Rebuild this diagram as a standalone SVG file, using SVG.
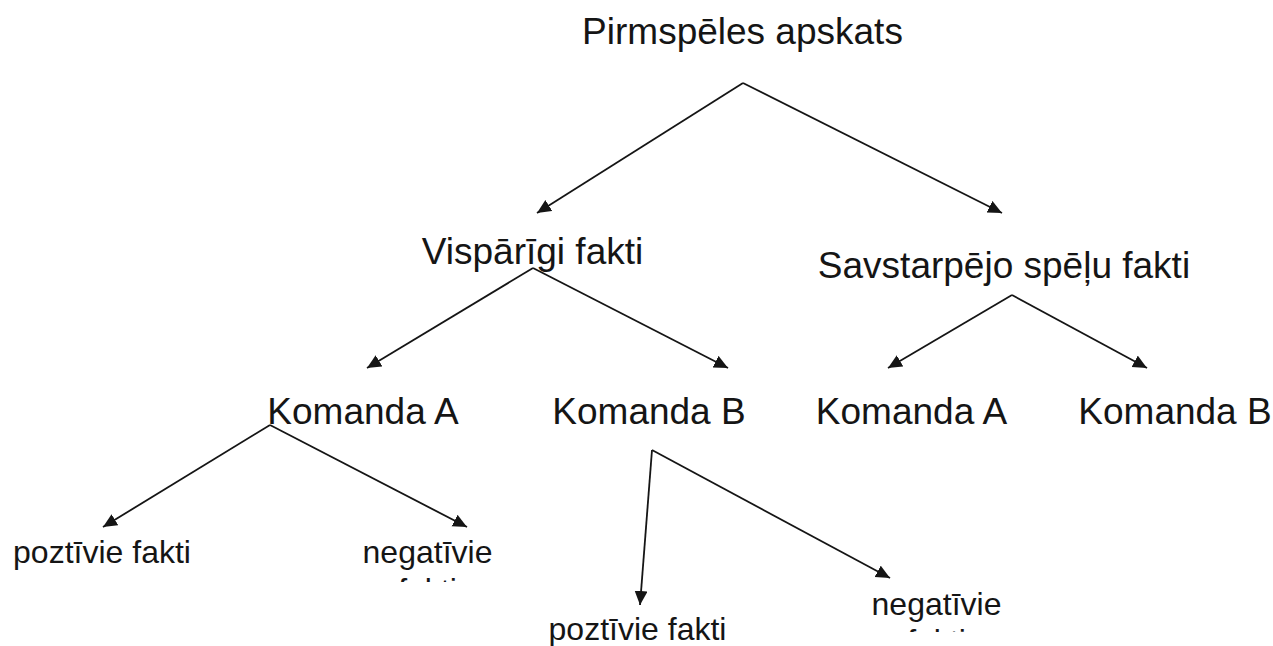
<svg xmlns="http://www.w3.org/2000/svg" width="1273" height="646" viewBox="0 0 1273 646">
<style>
text{font-family:"Liberation Sans",Arial,Helvetica,sans-serif;fill:#151515;text-anchor:middle}
.big{font-size:37px}
.small{font-size:32px}
.edge{stroke:#151515;stroke-width:1.8;fill:none;marker-end:url(#arr)}
</style>
<defs>
<marker id="arr" markerUnits="userSpaceOnUse" markerWidth="18" markerHeight="16" refX="14" refY="6.5" orient="auto">
<path d="M0,0 L14,6.5 L0,13 Z" fill="#151515"/>
</marker>
<clipPath id="cl1"><rect x="300" y="540" width="260" height="42"/></clipPath>
<clipPath id="cl2"><rect x="820" y="590" width="240" height="42"/></clipPath>
</defs>
<g id="connectors">
<line class="edge" x1="743" y1="83" x2="537" y2="213"/>
<line class="edge" x1="743" y1="83" x2="1002" y2="213"/>
<line class="edge" x1="533" y1="268" x2="367" y2="368"/>
<line class="edge" x1="533" y1="268" x2="728" y2="368"/>
<line class="edge" x1="1012" y1="295" x2="888" y2="368"/>
<line class="edge" x1="1012" y1="295" x2="1147" y2="368"/>
<line class="edge" x1="270" y1="425" x2="103" y2="527"/>
<line class="edge" x1="270" y1="425" x2="467" y2="527"/>
<line class="edge" x1="652" y1="450" x2="640" y2="605"/>
<line class="edge" x1="652" y1="450" x2="890" y2="578"/>
</g>
<g id="n-root"><text class="big" x="742.5" y="44">Pirmspēles apskats</text></g>
<g id="n-visp"><text class="big" x="532.5" y="264">Vispārīgi fakti</text></g>
<g id="n-savst"><text class="big" x="1004" y="278">Savstarpējo spēļu fakti</text></g>
<g id="n-ka1"><text class="big" x="363" y="424">Komanda A</text></g>
<g id="n-kb1"><text class="big" x="649" y="424">Komanda B</text></g>
<g id="n-ka2"><text class="big" x="911.5" y="424">Komanda A</text></g>
<g id="n-kb2"><text class="big" x="1175" y="424">Komanda B</text></g>
<g id="n-poz1"><text class="small" x="102" y="563">poztīvie fakti</text></g>
<g id="n-neg1" clip-path="url(#cl1)"><text class="small" x="427.5" y="563">negatīvie</text><text class="small" x="427.5" y="601">fakti</text></g>
<g id="n-poz2"><text class="small" x="637.5" y="640">poztīvie fakti</text></g>
<g id="n-neg2" clip-path="url(#cl2)"><text class="small" x="936.5" y="615">negatīvie</text><text class="small" x="936.5" y="652">fakti</text></g>
</svg>
